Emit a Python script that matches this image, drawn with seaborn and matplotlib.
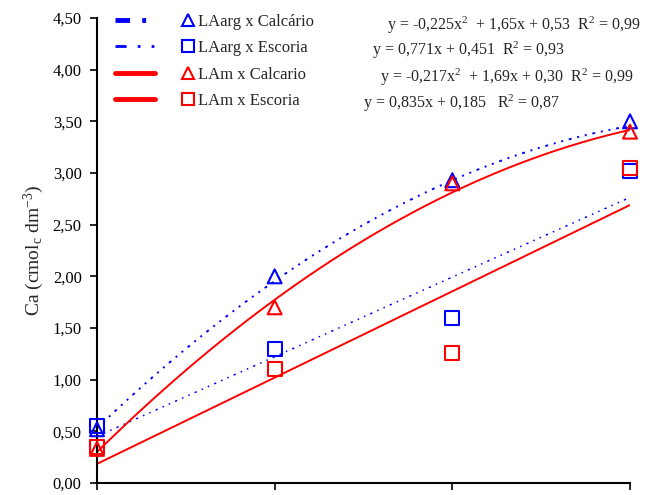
import numpy as np
import pandas as pd
import matplotlib
matplotlib.use("Agg")
import matplotlib.pyplot as plt
import seaborn as sns
from matplotlib.lines import Line2D
from matplotlib.legend_handler import HandlerTuple

# ---------------- data ----------------
x_levels = [0, 1, 2, 3]
series_names = ["LAarg x Calcário", "LAarg x Escoria", "LAm x Calcario", "LAm x Escoria"]
laarg_calcario = [0.52, 2.00, 2.93, 3.50]
laarg_escoria = [0.55, 1.30, 1.60, 3.02]
lam_calcario = [0.33, 1.70, 2.90, 3.40]
lam_escoria = [0.35, 1.10, 1.26, 3.05]

# regression coefficients (a, b, c) for y = a x^2 + b x + c, as printed on the chart
coef_laarg_calcario = [-0.225, 1.65, 0.53]
coef_laarg_escoria = [0.0, 0.771, 0.451]
coef_lam_calcario = [-0.217, 1.69, 0.30]
coef_lam_escoria = [0.0, 0.835, 0.185]

equations = [
    r"y = -0,225x$^{2}$  + 1,65x + 0,53  R$^{2}$ = 0,99",
    r"y = 0,771x + 0,451  R$^{2}$ = 0,93",
    r"y = -0,217x$^{2}$  + 1,69x + 0,30  R$^{2}$ = 0,99",
    r"y = 0,835x + 0,185   R$^{2}$ = 0,87",
]
y_ticks = [0.0, 0.5, 1.0, 1.5, 2.0, 2.5, 3.0, 3.5, 4.0, 4.5]

# ---------------- style ----------------
sns.set_theme(style="ticks")
plt.rcParams["font.family"] = ["Liberation Serif", "DejaVu Serif"]
plt.rcParams["mathtext.fontset"] = "custom"
plt.rcParams["mathtext.rm"] = "Liberation Serif"
plt.rcParams["mathtext.it"] = "Liberation Serif:italic"

BLUE = "#0000FF"
RED = "#FF0000"

fig = plt.figure(figsize=(6.55, 4.95), dpi=100)
ax = fig.add_axes([97 / 655, 1 - 483 / 495, (630 - 97) / 655, (483 - 18) / 495])

obs = [laarg_calcario, laarg_escoria, lam_calcario, lam_escoria]
coefs = [coef_laarg_calcario, coef_laarg_escoria, coef_lam_calcario, coef_lam_escoria]
colors = [BLUE, BLUE, RED, RED]
markers = ["^", "s", "^", "s"]
line_styles = [(0, (1.5, 3, 1, 3, 1, 3)), (0, (1.5, 3.5, 1, 3.5, 1, 3.5)), "-", "-"]
line_widths = [1.4, 1.1, 1.4, 1.4]

xfine = np.linspace(min(x_levels), max(x_levels), 120)
for name, yv, cf, col, mk, ls, lw in zip(series_names, obs, coefs, colors, markers,
                                         line_styles, line_widths):
    fit = pd.DataFrame({"x": xfine, "y": np.polyval(cf, xfine)})
    sns.lineplot(data=fit, x="x", y="y", ax=ax, color=col, linestyle=ls,
                 linewidth=lw, legend=False)
    pts = pd.DataFrame({"x": x_levels, "y": yv})
    sns.scatterplot(data=pts, x="x", y="y", ax=ax, marker=mk, s=100,
                    facecolor="none", edgecolor=col, linewidth=1.5,
                    clip_on=False, zorder=5, legend=False)

ax.set_xlim(0, 3)
ax.set_ylim(0, 4.5)
ax.set_xticks(x_levels)
ax.set_xticklabels([])
ax.set_yticks(y_ticks)
ax.set_yticklabels([f"{v:.2f}".replace(".", ",") for v in y_ticks])
ax.tick_params(axis="both", direction="out", length=5, width=1.2, colors="black",
               labelsize=12, pad=6)
for s in ["top", "right"]:
    ax.spines[s].set_visible(False)
for s in ["left", "bottom"]:
    ax.spines[s].set_linewidth(1.5)
    ax.spines[s].set_color("black")
ax.set_xlabel("")
ax.set_ylabel(r"Ca (cmol$_{\mathrm{c}}$ dm$^{-3}$)", fontsize=14, labelpad=5)

# legend: line sample + marker + label
leg_lines = [
    Line2D([], [], color=BLUE, lw=3.5, linestyle=(0, (3, 2.5, 0.8, 2.5, 0.8, 2.5))),
    Line2D([], [], color=BLUE, lw=2.0, linestyle=(0, (4, 4, 1, 4, 1, 4))),
    Line2D([], [], color=RED, lw=3.5, linestyle="-"),
    Line2D([], [], color=RED, lw=3.5, linestyle="-"),
]
leg_marks = [
    Line2D([], [], color=c, marker=m, markersize=9, markerfacecolor="none",
           markeredgewidth=1.5, linestyle="none")
    for c, m in zip(colors, markers)
]
fig.legend([(l, m) for l, m in zip(leg_lines, leg_marks)], series_names,
           handler_map={tuple: HandlerTuple(ndivide=None, pad=0.78)},
           loc="upper left", bbox_to_anchor=(115 / 655, 1 - 14 / 495),
           frameon=False, fontsize=12, handlelength=5.58, handletextpad=-0.6,
           labelspacing=0.62, borderpad=0, borderaxespad=0)

eq_pos = [(387, 30), (372, 55), (380, 82), (363, 108)]
for txt, (px, py) in zip(equations, eq_pos):
    fig.text(px / 655, 1 - py / 495, txt, fontsize=11.5, ha="left", va="baseline")

fig.savefig("out.png", dpi=100)
